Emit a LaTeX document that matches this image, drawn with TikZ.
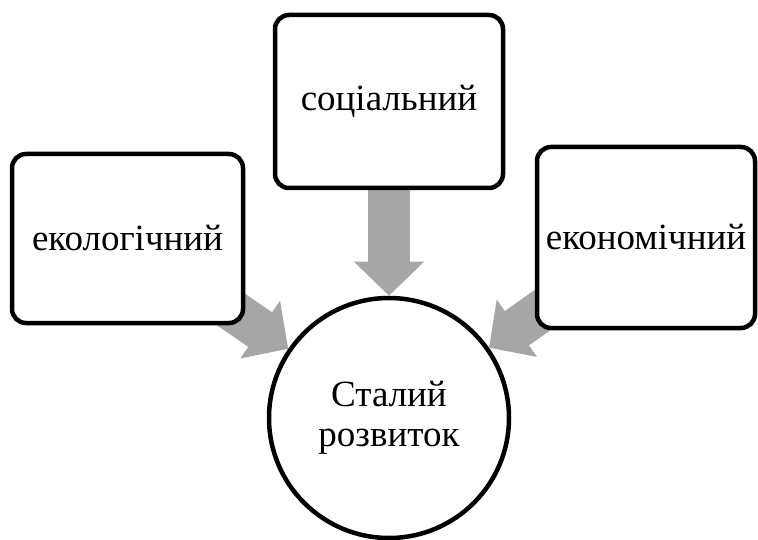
\documentclass[tikz,border=0pt]{standalone}
\usepackage{fontspec}
\setmainfont{Liberation Serif}
\usepackage{tikz}
\usetikzlibrary{arrows,arrows.meta,backgrounds}

\definecolor{arrowgray}{HTML}{A6A6A6}

\begin{document}
\begin{tikzpicture}[x=1pt,y=-1pt,
box/.style={draw,line width=4.5pt,rounded corners=14pt,fill=white,inner sep=0pt,font=\fontsize{37}{40}\selectfont},
goal/.style={draw,circle,line width=4.5pt,fill=white,inner sep=0pt,minimum size=240pt,align=center,font=\fontsize{37}{40}\selectfont},
arrow/.style={-{Triangle[length=34pt,width=68pt]},line width=42pt,arrowgray} ]

\useasboundingbox (0,0) rectangle (758,540);

\node[box,minimum width=231pt,minimum height=169pt] (E) at (127.5,238.5) {екологічний};

\node[box,minimum width=228pt,minimum height=173pt] (S) at (389,101.5) {соціальний};

\node[box,minimum width=218pt,minimum height=181pt] (N) at (646,237.5) {економічний};

\node[goal] (R) at (389,418) {Сталий\\розвиток};

\begin{pgfonlayer}{background}
\draw[arrow] (E.center) -- (R);

\draw[arrow] (S.center) -- (R);

\draw[arrow] (N.center) -- (R);
\end{pgfonlayer}

\end{tikzpicture}
\end{document}
